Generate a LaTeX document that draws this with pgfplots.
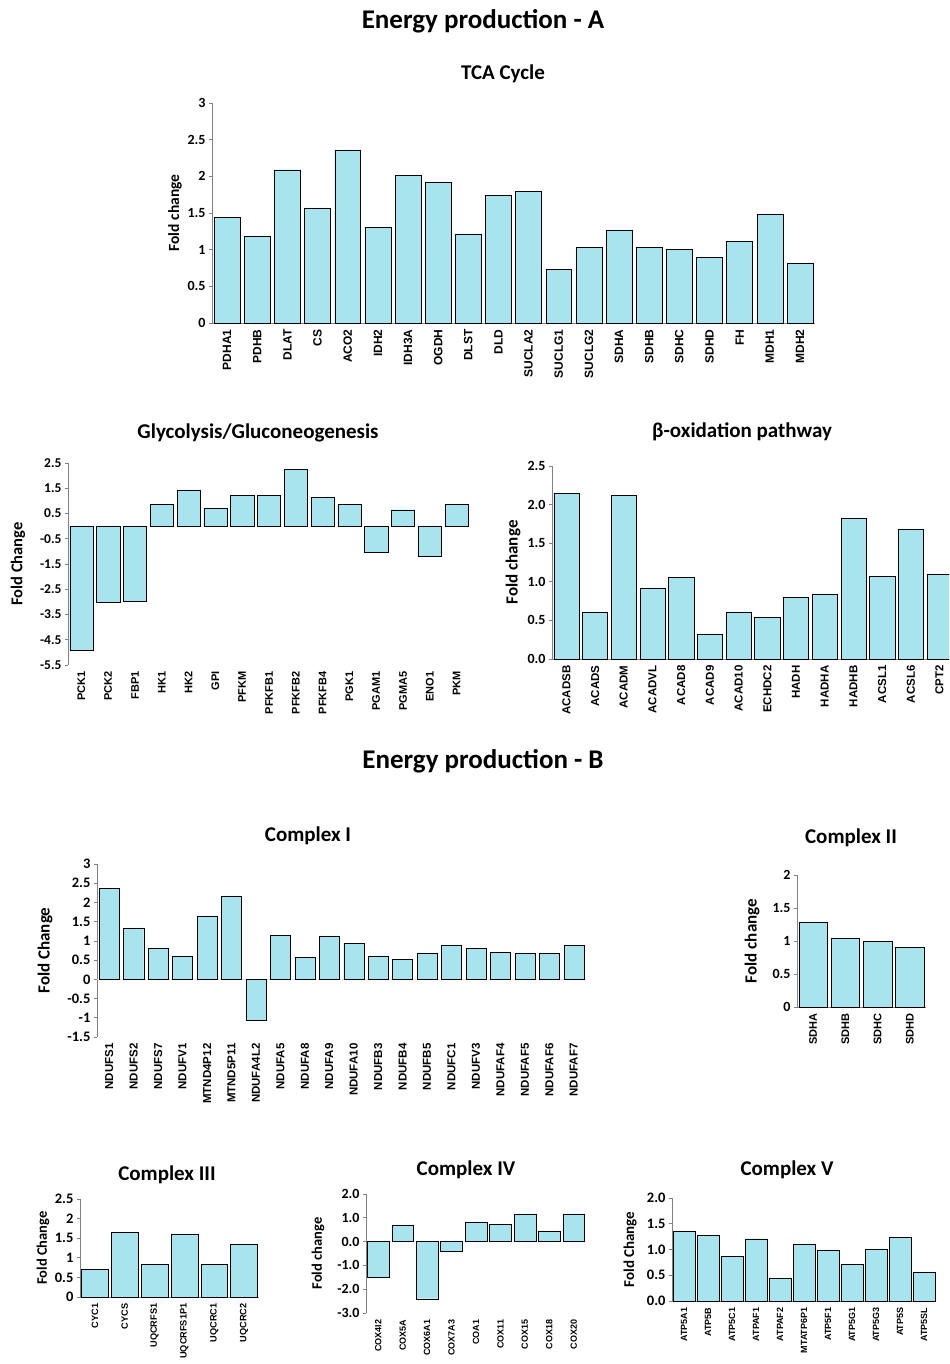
\documentclass[border=0pt]{standalone}
\usepackage{fontspec}
\setmainfont{Carlito}
\newfontfamily\gene{Liberation Sans}
\usepackage{pgfplots}
\pgfplotsset{compat=1.18}
\definecolor{barfill}{RGB}{168,228,238}
\definecolor{baredge}{RGB}{105,145,152}
\definecolor{axgray}{RGB}{130,130,130}
\pgfplotsset{
  base/.style={
    scale only axis, anchor=south west, ybar,
    axis y line*=left, axis x line*=bottom,
    axis line style={draw=axgray, line width=0.7pt},
    tick align=outside, major tick length=3pt,
    ytick style={draw=axgray, line width=0.7pt},
    xtick style={draw=none},
    xtick=data,
    x tick label style={rotate=90, anchor=east},
    /pgf/number format/assume math mode=true,
    cycle list={{fill=barfill, draw=baredge, line width=0.9pt}},
  },
  genefont/.style={x tick label style={font=\gene\bfseries\fontsize{#1}{#1}\selectfont}},
  tickfont/.style={yticklabel style={font=\bfseries\fontsize{#1}{#1}\selectfont}},
  ylab/.style 2 args={ylabel style={font=\bfseries\fontsize{#1}{#1}\selectfont, at={(axis description cs:-#2,0.5)}, anchor=center}},
  noxline/.style={x axis line style={draw=none}},
  onedec/.style={yticklabel style={/pgf/number format/fixed, /pgf/number format/fixed zerofill, /pgf/number format/precision=1}},
}
\begin{document}
\begin{tikzpicture}
\path (0pt,0pt) rectangle (949pt,-1364pt);
\tikzset{ttl/.style={font=\bfseries\fontsize{21}{21}\selectfont}, big/.style={font=\bfseries\fontsize{27}{27}\selectfont}}
\node[big] at (483pt,-21pt) {Energy production - A};
\node[big] at (483pt,-761pt) {Energy production - B};
\node[ttl] at (503pt,-74pt) {TCA Cycle};
\node[ttl] at (258pt,-433pt) {Glycolysis/Gluconeogenesis};
\node[ttl] at (742pt,-432pt) {β-oxidation pathway};
\node[ttl] at (308pt,-836pt) {Complex I};
\node[ttl] at (851pt,-838pt) {Complex II};
\node[ttl] at (167pt,-1175pt) {Complex III};
\node[ttl] at (466pt,-1170pt) {Complex IV};
\node[ttl] at (787pt,-1170pt) {Complex V};

% TCA
\begin{axis}[base, at={(212pt,-323pt)}, width=603pt, height=220pt,
  xmin=-0.5, xmax=19.5, ymin=0, ymax=3, ytick={0,0.5,1,1.5,2,2.5,3},
  bar width=0.86, genefont=12, tickfont=14, ylab={15.5}{0.0614},
  ylabel={Fold change},
  xticklabels={PDHA1,PDHB,DLAT,CS,ACO2,IDH2,IDH3A,OGDH,DLST,DLD,SUCLA2,SUCLG1,SUCLG2,SDHA,SDHB,SDHC,SDHD,FH,MDH1,MDH2}]
\addplot coordinates {(0,1.44) (1,1.18) (2,2.09) (3,1.57) (4,2.35) (5,1.30) (6,2.01) (7,1.92) (8,1.21) (9,1.74) (10,1.80) (11,0.735) (12,1.03) (13,1.27) (14,1.03) (15,1.00) (16,0.90) (17,1.11) (18,1.48) (19,0.82)};
\end{axis}

% Glycolysis
\begin{axis}[base, noxline, at={(68pt,-665pt)}, width=402pt, height=202pt,
  xmin=-0.5, xmax=14.5, ymin=-5.5, ymax=2.5, ytick={-5.5,-4.5,-3.5,-2.5,-1.5,-0.5,0.5,1.5,2.5},
  bar width=0.87, genefont=11, tickfont=13.5, ylab={16.5}{0.1244},
  ylabel={Fold Change},
  xticklabels={PCK1,PCK2,FBP1,HK1,HK2,GPI,PFKM,PFKFB1,PFKFB2,PFKFB4,PGK1,PGAM1,PGMA5,ENO1,PKM}]
\addplot coordinates {(0,-4.9) (1,-3.0) (2,-2.96) (3,0.85) (4,1.43) (5,0.70) (6,1.23) (7,1.23) (8,2.24) (9,1.15) (10,0.85) (11,-1.02) (12,0.65) (13,-1.2) (14,0.85)};
\end{axis}

% beta-oxidation
\begin{axis}[base, onedec, at={(552pt,-659pt)}, width=397pt, height=193pt,
  xmin=-0.5, xmax=13.33, ymin=0, ymax=2.5, ytick={0,0.5,1,1.5,2,2.5},
  bar width=0.88, genefont=11.5, tickfont=14, ylab={17}{0.098},
  ylabel={Fold change},
  xticklabels={ACADSB,ACADS,ACADM,ACADVL,ACAD8,ACAD9,ACAD10,ECHDC2,HADH,HADHA,HADHB,ACSL1,ACSL6,CPT2}]
\addplot coordinates {(0,2.15) (1,0.61) (2,2.12) (3,0.92) (4,1.055) (5,0.316) (6,0.60) (7,0.536) (8,0.80) (9,0.84) (10,1.825) (11,1.07) (12,1.68) (13,1.10)};
\end{axis}

% Complex I
\begin{axis}[base, noxline, at={(97pt,-1037pt)}, width=489pt, height=173pt,
  xmin=-0.5, xmax=19.5, ymin=-1.5, ymax=3, ytick={-1.5,-1,-0.5,0,0.5,1,1.5,2,2.5,3},
  bar width=0.82, genefont=11.5, tickfont=14.5, ylab={17}{0.1063},
  ylabel={Fold Change},
  xticklabels={NDUFS1,NDUFS2,NDUFS7,NDUFV1,MTND4P12,MTND5P11,NDUFA4L2,NDUFA5,NDUFA8,NDUFA9,NDUFA10,NDUFB3,NDUFB4,NDUFB5,NDUFC1,NDUFV3,NDUFAF4,NDUFAF5,NDUFAF6,NDUFAF7}]
\draw[black!12, line width=0.7pt] (axis cs:-0.5,0) -- (axis cs:19.5,0);
\addplot coordinates {(0,2.37) (1,1.34) (2,0.82) (3,0.59) (4,1.64) (5,2.17) (6,-1.07) (7,1.146) (8,0.57) (9,1.13) (10,0.94) (11,0.61) (12,0.52) (13,0.69) (14,0.88) (15,0.81) (16,0.71) (17,0.68) (18,0.68) (19,0.89)};
\end{axis}

% Complex II
\begin{axis}[base, at={(797pt,-1007pt)}, width=129pt, height=132pt,
  xmin=-0.5, xmax=3.5, ymin=0, ymax=2, ytick={0,0.5,1,1.5,2},
  bar width=0.88, genefont=11, tickfont=14, ylab={17}{0.349},
  ylabel={Fold change},
  xticklabels={SDHA,SDHB,SDHC,SDHD}]
\addplot coordinates {(0,1.28) (1,1.048) (2,1.0) (3,0.90)};
\end{axis}

% Complex III
\begin{axis}[base, at={(80pt,-1297pt)}, width=179pt, height=98pt,
  xmin=-0.5, xmax=5.5, ymin=0, ymax=2.5, ytick={0,0.5,1,1.5,2,2.5},
  bar width=0.9, genefont=9.2, tickfont=14.5, ylab={14.5}{0.207},
  ylabel={Fold Change},
  xticklabels={CYC1,CYCS,UQCRFS1,UQCRFS1P1,UQCRC1,UQCRC2}]
\addplot coordinates {(0,0.70) (1,1.65) (2,0.83) (3,1.61) (4,0.84) (5,1.35)};
\end{axis}

% Complex IV
\begin{axis}[base, noxline, onedec, at={(366pt,-1313pt)}, width=220pt, height=119pt,
  xmin=-0.5, xmax=8.5, ymin=-3, ymax=2, ytick={-3,-2,-1,0,1,2},
  bar width=0.89, genefont=9, tickfont=14, ylab={14.5}{0.218},
  ylabel={Fold change},
  xticklabels={COX4I2,COX5A,COX6A1,COX7A3,COA1,COX11,COX15,COX18,COX20}]
\addplot coordinates {(0,-1.48) (1,0.70) (2,-2.40) (3,-0.42) (4,0.80) (5,0.715) (6,1.16) (7,0.45) (8,1.16)};
\end{axis}

% Complex V
\begin{axis}[base, onedec, at={(672pt,-1301pt)}, width=264pt, height=103pt,
  xmin=-0.5, xmax=10.5, ymin=0, ymax=2, ytick={0,0.5,1,1.5,2},
  bar width=0.9, genefont=9, tickfont=14.5, ylab={15}{0.159},
  ylabel={Fold Change},
  xticklabels={ATP5A1,ATP5B,ATP5C1,ATPAF1,ATPAF2,MTATP6P1,ATP5F1,ATP5G1,ATP5G3,ATP5S,ATP5SL}]
\addplot coordinates {(0,1.36) (1,1.277) (2,0.873) (3,1.21) (4,0.45) (5,1.094) (6,0.99) (7,0.716) (8,1.01) (9,1.23) (10,0.567)};
\end{axis}
\end{tikzpicture}
\end{document}
